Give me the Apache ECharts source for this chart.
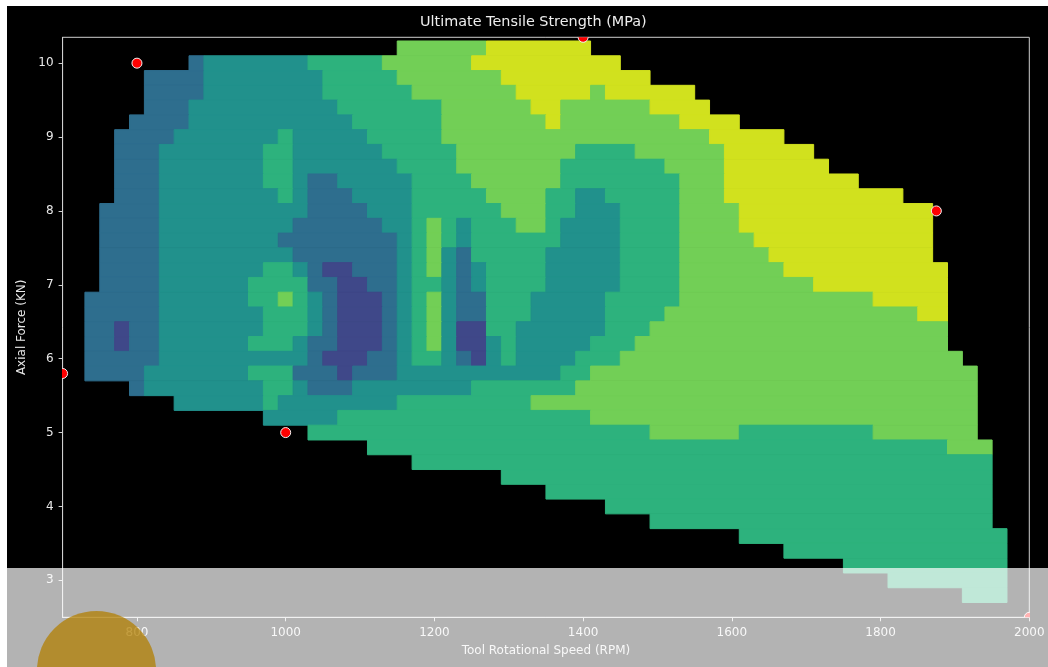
<!DOCTYPE html>
<html>
<head>
<meta charset="utf-8">
<script src="https://cdn.jsdelivr.net/npm/echarts@6/dist/echarts.min.js"></script>
<style>
html,body{margin:0;padding:0;background:#ffffff;width:1048px;height:667px;overflow:hidden}
#chart{position:absolute;left:7px;top:6px;width:1041px;height:661px;background:#000000}
</style>
</head>
<body>
<div id="chart"></div>
<script>
// ---- data ----
const cellRPM = 20;      // grid spacing of the gridded field (RPM)
const cellForce = 0.2;   // grid spacing of the gridded field (kN)
const forceRows = [10.2,10.0,9.8,9.6,9.4,9.2,9.0,8.8,8.6,8.4,8.2,8.0,7.8,7.6,7.4,7.2,7.0,6.8,6.6,6.4,6.2,6.0,5.8,5.6,5.4,5.2,5.0,4.8,4.6,4.4,4.2,4.0,3.8,3.6,3.4,3.2,3.0,2.8];
// each row: runs of [fromRPM, toRPM, UTS (MPa)]
const utsRuns = [
 [[1160,1260,230],[1280,1400,250]],
 [[880,880,170],[900,1020,190],[1040,1120,210],[1140,1240,230],[1260,1440,250]],
 [[820,880,170],[900,1040,190],[1060,1140,210],[1160,1280,230],[1300,1480,250]],
 [[820,880,170],[900,1040,190],[1060,1160,210],[1180,1300,230],[1320,1400,250],[1420,1420,230],[1440,1540,250]],
 [[820,860,170],[880,1060,190],[1080,1200,210],[1220,1320,230],[1340,1360,250],[1380,1480,230],[1500,1560,250]],
 [[800,860,170],[880,1080,190],[1100,1200,210],[1220,1340,230],[1360,1360,250],[1380,1520,230],[1540,1600,250]],
 [[780,840,170],[860,980,190],[1000,1000,210],[1020,1100,190],[1120,1200,210],[1220,1560,230],[1580,1660,250]],
 [[780,820,170],[840,960,190],[980,1000,210],[1020,1120,190],[1140,1220,210],[1240,1380,230],[1400,1460,210],[1480,1580,230],[1600,1700,250]],
 [[780,820,170],[840,960,190],[980,1000,210],[1020,1140,190],[1160,1220,210],[1240,1360,230],[1380,1500,210],[1520,1580,230],[1600,1720,250]],
 [[780,820,170],[840,960,190],[980,1000,210],[1020,1020,190],[1040,1060,170],[1080,1160,190],[1180,1240,210],[1260,1360,230],[1380,1520,210],[1540,1580,230],[1600,1760,250]],
 [[780,820,170],[840,980,190],[1000,1000,210],[1020,1020,190],[1040,1080,170],[1100,1160,190],[1180,1260,210],[1280,1340,230],[1360,1380,210],[1400,1420,190],[1440,1520,210],[1540,1580,230],[1600,1820,250]],
 [[760,820,170],[840,1020,190],[1040,1100,170],[1120,1160,190],[1180,1280,210],[1300,1340,230],[1360,1380,210],[1400,1440,190],[1460,1520,210],[1540,1600,230],[1620,1860,250]],
 [[760,820,170],[840,1000,190],[1020,1120,170],[1140,1160,190],[1180,1180,210],[1200,1200,230],[1220,1220,210],[1240,1240,190],[1260,1300,210],[1320,1340,230],[1360,1360,210],[1380,1440,190],[1460,1520,210],[1540,1600,230],[1620,1860,250]],
 [[760,820,170],[840,980,190],[1000,1140,170],[1160,1160,190],[1180,1180,210],[1200,1200,230],[1220,1220,210],[1240,1240,190],[1260,1360,210],[1380,1440,190],[1460,1520,210],[1540,1620,230],[1640,1860,250]],
 [[760,820,170],[840,1000,190],[1020,1140,170],[1160,1160,190],[1180,1180,210],[1200,1200,230],[1220,1220,190],[1240,1240,170],[1260,1340,210],[1360,1440,190],[1460,1520,210],[1540,1640,230],[1660,1860,250]],
 [[760,820,170],[840,960,190],[980,1000,210],[1020,1020,190],[1040,1040,170],[1060,1080,150],[1100,1140,170],[1160,1160,190],[1180,1180,210],[1200,1200,230],[1220,1220,190],[1240,1240,170],[1260,1260,190],[1280,1340,210],[1360,1440,190],[1460,1520,210],[1540,1660,230],[1680,1880,250]],
 [[760,820,170],[840,940,190],[960,1020,210],[1040,1060,170],[1080,1100,150],[1120,1140,170],[1160,1160,190],[1180,1200,210],[1220,1220,190],[1240,1240,170],[1260,1260,190],[1280,1340,210],[1360,1440,190],[1460,1520,210],[1540,1700,230],[1720,1880,250]],
 [[740,820,170],[840,940,190],[960,980,210],[1000,1000,230],[1020,1020,210],[1040,1040,190],[1060,1060,170],[1080,1120,150],[1140,1140,170],[1160,1160,190],[1180,1180,210],[1200,1200,230],[1220,1220,190],[1240,1260,170],[1280,1320,210],[1340,1420,190],[1440,1520,210],[1540,1780,230],[1800,1880,250]],
 [[740,820,170],[840,960,190],[980,1020,210],[1040,1040,190],[1060,1060,170],[1080,1120,150],[1140,1140,170],[1160,1160,190],[1180,1180,210],[1200,1200,230],[1220,1220,190],[1240,1260,170],[1280,1320,210],[1340,1420,190],[1440,1500,210],[1520,1840,230],[1860,1880,250]],
 [[740,760,170],[780,780,150],[800,820,170],[840,960,190],[980,1020,210],[1040,1040,190],[1060,1060,170],[1080,1120,150],[1140,1140,170],[1160,1160,190],[1180,1180,210],[1200,1200,230],[1220,1220,190],[1240,1260,150],[1280,1300,210],[1320,1420,190],[1440,1480,210],[1500,1880,230]],
 [[740,760,170],[780,780,150],[800,820,170],[840,940,190],[960,1000,210],[1020,1020,190],[1040,1060,170],[1080,1120,150],[1140,1140,170],[1160,1160,190],[1180,1180,210],[1200,1200,230],[1220,1220,190],[1240,1260,150],[1280,1280,190],[1300,1300,210],[1320,1400,190],[1420,1460,210],[1480,1880,230]],
 [[740,820,170],[840,1020,190],[1040,1040,170],[1060,1100,150],[1120,1140,170],[1160,1160,190],[1180,1200,210],[1220,1220,190],[1240,1240,170],[1260,1260,150],[1280,1280,190],[1300,1300,210],[1320,1380,190],[1400,1440,210],[1460,1900,230]],
 [[740,800,170],[820,940,190],[960,1000,210],[1020,1060,170],[1080,1080,150],[1100,1140,170],[1160,1360,190],[1380,1400,210],[1420,1920,230]],
 [[800,800,170],[820,960,190],[980,1000,210],[1020,1020,190],[1040,1080,170],[1100,1240,190],[1260,1380,210],[1400,1920,230]],
 [[860,960,190],[980,980,210],[1000,1140,190],[1160,1320,210],[1340,1920,230]],
 [[980,1060,190],[1080,1400,210],[1420,1920,230]],
 [[1040,1480,210],[1500,1600,230],[1620,1780,210],[1800,1920,230]],
 [[1120,1880,210],[1900,1940,230]],
 [[1180,1940,210]],
 [[1300,1940,210]],
 [[1360,1940,210]],
 [[1440,1940,210]],
 [[1500,1940,210]],
 [[1620,1960,210]],
 [[1680,1960,210]],
 [[1760,1960,210]],
 [[1820,1960,210]],
 [[1920,1960,210]]
];
const contourLevels = [120,140,160,180,200,220,240,260];
const sampleRPM = [700, 800, 1000, 1400, 1875, 2000];
const sampleForce = [5.8, 10.0, 5.0, 10.35, 8.0, 2.5];
const xTicks = [800, 1000, 1200, 1400, 1600, 1800, 2000];
const yTicks = [3, 4, 5, 6, 7, 8, 9, 10];

// ---- styling ----
const bandColors = ['#481a6c','#3f4889','#2e6e8e','#21918c','#2db27d','#72cf56','#d1e11e'];
function colorFor(v) {
  for (let i = 0; i < contourLevels.length - 1; i++) {
    if (v >= contourLevels[i] && v < contourLevels[i + 1]) return bandColors[i];
  }
  return bandColors[bandColors.length - 1];
}

const fieldData = [];
forceRows.forEach(function (f, r) {
  utsRuns[r].forEach(function (run) { fieldData.push([run[0], run[1], f, run[2]]); });
});
const pointData = sampleRPM.map(function (x, i) { return [x, sampleForce[i]]; });

const axisColor = '#d0d0d0';
const textColor = '#e8e8e8';
const fontFamily = 'DejaVu Sans';

const chart = echarts.init(document.getElementById('chart'), null, { renderer: 'canvas' });
chart.setOption({
  animation: false,
  backgroundColor: '#000000',
  title: {
    text: 'Ultimate Tensile Strength (MPa)',
    left: 413, top: 9, padding: 0,
    textStyle: { color: '#eeeeee', fontSize: 14.4, fontWeight: 'normal', fontFamily: fontFamily }
  },
  grid: {
    left: 55.6, top: 31.3, width: 966.7, height: 580,
    show: true, borderColor: axisColor, borderWidth: 1, backgroundColor: 'transparent'
  },
  xAxis: {
    type: 'value', min: 700, max: 2000,
    name: 'Tool Rotational Speed (RPM)', nameLocation: 'middle', nameGap: 28,
    nameTextStyle: { color: textColor, fontSize: 12, fontFamily: fontFamily },
    axisLine: { show: true, lineStyle: { color: axisColor, width: 1 } },
    axisTick: { show: true, inside: false, length: 4, lineStyle: { color: axisColor }, customValues: xTicks },
    axisLabel: { show: true, color: textColor, fontSize: 12, fontFamily: fontFamily, margin: 10, customValues: xTicks,
      formatter: function (v) { return String(v); } },
    splitLine: { show: false }
  },
  yAxis: {
    type: 'value', min: 2.5, max: 10.35,
    name: 'Axial Force (KN)', nameLocation: 'middle', nameGap: 31, nameRotate: 90,
    nameTextStyle: { color: textColor, fontSize: 12, fontFamily: fontFamily },
    axisLine: { show: true, lineStyle: { color: axisColor, width: 1 } },
    axisTick: { show: true, inside: false, length: 4, lineStyle: { color: axisColor }, customValues: yTicks },
    axisLabel: { show: true, color: textColor, fontSize: 12, fontFamily: fontFamily, margin: 9, customValues: yTicks,
      formatter: function (v) { return String(v); } },
    splitLine: { show: false }
  },
  series: [
    {
      type: 'custom',
      clip: true,
      z: 2,
      encode: { x: [0, 1], y: 2 },
      data: fieldData,
      renderItem: function (params, api) {
        const x0 = api.value(0), x1 = api.value(1), y = api.value(2), v = api.value(3);
        const p0 = api.coord([x0 - cellRPM / 2, y + cellForce / 2]);
        const p1 = api.coord([x1 + cellRPM / 2, y - cellForce / 2]);
        const c = colorFor(v);
        return {
          type: 'rect',
          shape: { x: p0[0], y: p0[1], width: p1[0] - p0[0], height: p1[1] - p0[1] },
          style: { fill: c, stroke: c, lineWidth: 1 }
        };
      }
    },
    {
      type: 'custom',
      clip: true,
      z: 5,
      encode: { x: 0, y: 1 },
      data: pointData,
      renderItem: function (params, api) {
        const p = api.coord([api.value(0), api.value(1)]);
        return {
          type: 'circle',
          shape: { cx: p[0], cy: p[1], r: 5 },
          style: { fill: '#ff0000', stroke: '#f2f2f2', lineWidth: 1 }
        };
      }
    }
  ],
  graphic: [
    { type: 'rect', z: 100, shape: { x: 0, y: 562, width: 1041, height: 99 }, style: { fill: 'rgba(255,255,255,0.7)' } },
    { type: 'circle', z: 101, shape: { cx: 89.5, cy: 664.6, r: 59.6 }, style: { fill: 'rgba(178,127,0,0.74)' } }
  ]
});
</script>
</body>
</html>
